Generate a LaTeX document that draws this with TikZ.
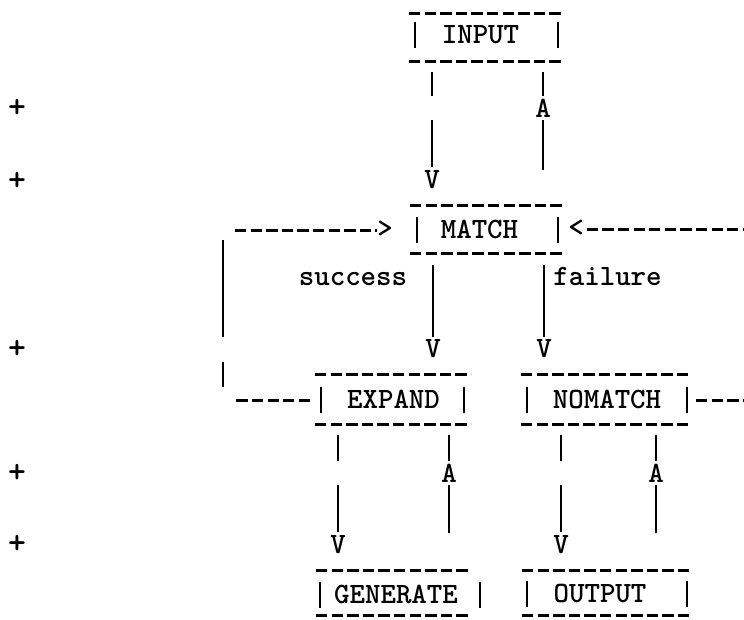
\documentclass[tikz,border=0pt]{standalone}
\usetikzlibrary{calc}
\tikzset{
  hd/.style={line width=3pt, dash pattern=on 11.3pt off 4.3pt},
  barline/.style={line width=2.3pt},
  vl/.style={line width=2.1pt},
  tw/.style={font=\fontsize{29.5}{31}\selectfont\ttfamily\bfseries, inner sep=0pt, outer sep=0pt, anchor=base},
  plusmark/.style={font=\fontsize{34}{35}\selectfont\ttfamily\bfseries, inner sep=0pt, outer sep=0pt},
  boxarea/.style={inner sep=0pt, outer sep=0pt, minimum height=#1},
  boxarea/.default=48pt
}
\begin{document}
\begin{tikzpicture}[x=1pt,y=-1pt]
\useasboundingbox (0,0) rectangle (744,619);

% ---------- boxes ----------
% INPUT
\node[boxarea=48pt, minimum width=154pt] (input) at (486,37) {};
\node[tw] (input-t) at (480.5,43) {INPUT};
\draw[hd] (input.north west) -- (input.north east);
\draw[hd] (input.south west) -- (input.south east);
\draw[barline] ($(input.west |- input-t.base)+(6,5)$) -- ++(0,-26);
\draw[barline] ($(input.east |- input-t.base)+(-5,5)$) -- ++(0,-26);

% MATCH
\node[boxarea=48pt, minimum width=156pt] (match) at (488,229) {};
\node[tw] (match-t) at (479.5,238) {MATCH};
\draw[hd] (match.north west) -- (match.north east);
\draw[hd] (match.south west) -- (match.south east);
\draw[barline] ($(match.west |- match-t.base)+(7,5)$) -- ++(0,-26);
\draw[barline] ($(match.east |- match-t.base)+(-8,5)$) -- ++(0,-26);

% EXPAND
\node[boxarea=50pt, minimum width=156pt] (expand) at (393,399) {};
\node[tw] (expand-t) at (393.5,408) {EXPAND};
\draw[hd] (expand.north west) -- (expand.north east);
\draw[hd] (expand.south west) -- (expand.south east);
\draw[barline] ($(expand.west |- expand-t.base)+(6,5)$) -- ++(0,-26);
\draw[barline] ($(expand.east |- expand-t.base)+(-7,5)$) -- ++(0,-26);

% NOMATCH
\node[boxarea=50pt, minimum width=171pt] (nomatch) at (606.5,399) {};
\node[tw] (nomatch-t) at (607,408) {NOMATCH};
\draw[hd] (nomatch.north west) -- (nomatch.north east);
\draw[hd] (nomatch.south west) -- (nomatch.south east);
\draw[barline] ($(nomatch.west |- nomatch-t.base)+(6,5)$) -- ++(0,-26);
\draw[barline] ($(nomatch.east |- nomatch-t.base)+(-5,5)$) -- ++(0,-26);

% GENERATE
\node[boxarea=45pt, minimum width=155pt] (generate) at (393.5,592.5) {};
\node[tw] (generate-t) at (396,603) {GENERATE};
\draw[hd] (generate.north west) -- (generate.north east);
\draw[hd] (generate.south west) -- (generate.south east);
\draw[barline] ($(generate.west |- generate-t.base)+(4,5)$) -- ++(0,-26);
\draw[barline] ($(generate.east |- generate-t.base)+(9,5)$) -- ++(0,-26);

% OUTPUT
\node[boxarea=45pt, minimum width=171pt] (output) at (607.5,592.5) {};
\node[tw] (output-t) at (600,602) {OUTPUT};
\draw[hd] (output.north west) -- (output.north east);
\draw[hd] (output.south west) -- (output.south east);
\draw[barline] ($(output.west |- output-t.base)+(5,5)$) -- ++(0,-26);
\draw[barline] ($(output.east |- output-t.base)+(-6,5)$) -- ++(0,-26);

% ---------- labels ----------
\node[tw] (success) at (353,285) {success};
\node[tw] (failure) at (607.5,285) {failure};

% ---------- arrow heads (typed letters) ----------
\node[tw] (v1) at (432,188) {V};
\node[tw] (v2) at (433,357) {V};
\node[tw] (v3) at (544,357) {V};
\node[tw] (v4) at (338,553) {V};
\node[tw] (v5) at (561,553) {V};
\node[tw] (a1) at (543,117) {A};
\node[tw] (a2) at (449,482) {A};
\node[tw] (a3) at (656,482) {A};
\node[tw] (gt) at (385,237) {>};
\node[tw] (lt) at (576,236) {<};

% ---------- margin marks ----------
\node[plusmark] (p1) at (17,108) {+};
\node[plusmark] (p2) at (17,181) {+};
\node[plusmark] (p3) at (17,349) {+};
\node[plusmark] (p4) at (17,473) {+};
\node[plusmark] (p5) at (17,544) {+};

% ---------- connectors ----------
% INPUT -> MATCH
\draw[vl] ($(input.south -| v1)+(0,11)$) -- ($(a1.north -| v1)+(0,-3)$);
\draw[vl] ($(a1.south -| v1)+(0,3)$) -- ($(v1.north)+(0,-3)$);
% MATCH -> INPUT
\draw[vl] ($(match.north -| a1)+(0,-35)$) -- ($(a1.south)+(0,3)$);
\draw[vl] ($(a1.north)+(0,-3)$) -- ($(input.south -| a1)+(0,11)$);
% MATCH -> EXPAND (success), MATCH -> NOMATCH (failure)
\draw[vl] ($(match.south -| v2)+(0,12)$) -- ($(v2.north)+(0,-2)$);
\draw[vl] ($(match.south -| v3)+(0,12)$) -- ($(v3.north)+(0,-2)$);
% EXPAND -> GENERATE
\draw[vl] ($(expand.south -| v4)+(0,11)$) -- ($(a2.north -| v4)+(0,-3)$);
\draw[vl] ($(a2.south -| v4)+(0,3)$) -- ($(v4.north)+(0,-3)$);
% GENERATE -> EXPAND
\draw[vl] ($(generate.north -| a2)+(0,-37)$) -- ($(a2.south)+(0,3)$);
\draw[vl] ($(a2.north)+(0,-3)$) -- ($(expand.south -| a2)+(0,11)$);
% NOMATCH -> OUTPUT
\draw[vl] ($(nomatch.south -| v5)+(0,11)$) -- ($(a3.north -| v5)+(0,-3)$);
\draw[vl] ($(a3.south -| v5)+(0,3)$) -- ($(v5.north)+(0,-3)$);
% OUTPUT -> NOMATCH
\draw[vl] ($(output.north -| a3)+(0,-37)$) -- ($(a3.south)+(0,3)$);
\draw[vl] ($(a3.north)+(0,-3)$) -- ($(nomatch.south -| a3)+(0,11)$);

% loop EXPAND -> MATCH on the left
\coordinate (loopT) at (223,240);
\coordinate (loopB) at (223,387);
\coordinate (loopL) at (235,400);
\coordinate (loopTL) at (235,230);
\draw[hd] (expand.west |- loopL) ++(-5,0) -- (loopL);
\draw[vl] (loopB) -- ++(0,-25) ++(0,-25) -- (loopT);
\draw[hd] (loopTL) -- (loopTL -| gt.west);

% loop NOMATCH -> MATCH on the right
\coordinate (redgeA) at (744,229);
\coordinate (redgeB) at (744,400);
\draw[hd] (lt.east |- redgeA) ++(3,0) -- (redgeA);
\draw[hd] (nomatch.east |- redgeB) ++(4,0) -- (redgeB);
\end{tikzpicture}
\end{document}
